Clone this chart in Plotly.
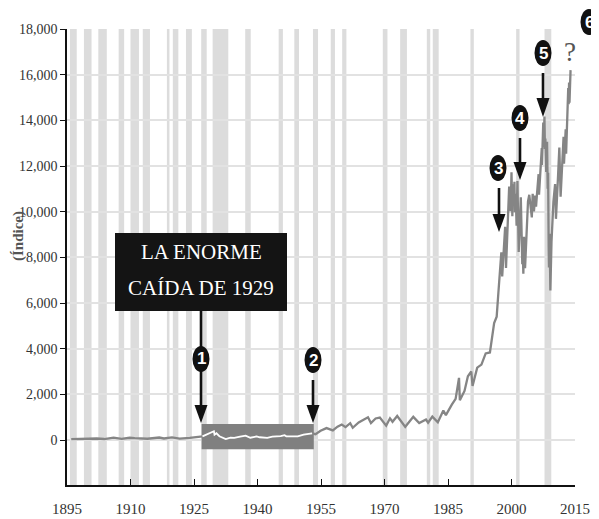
import numpy as np
import plotly.graph_objects as go

# ---------------- data ----------------
years = [1896.0, 1897.0, 1899.3, 1900.7, 1902.0, 1903.8, 1906.0, 1907.9, 1909.8, 1911.0,
         1914.0, 1916.8, 1917.9, 1919.8, 1921.6, 1924.0, 1926.0, 1927.0, 1928.0, 1929.7,
         1929.85, 1930.3, 1931.0, 1932.5, 1933.6, 1934.5, 1935.9, 1937.2, 1938.3, 1939.8,
         1940.5, 1942.3, 1943.5, 1945.5, 1946.4, 1946.8, 1949.5, 1950.9, 1952.9, 1953.7,
         1954.9, 1955.9, 1956.3, 1957.8, 1958.9, 1959.9, 1960.8, 1961.9, 1962.5, 1963.9,
         1964.9, 1966.1, 1966.8, 1967.9, 1968.9, 1970.4, 1971.3, 1971.9, 1973.0, 1974.9,
         1976.8, 1978.2, 1979.8, 1980.3, 1981.3, 1982.6, 1983.9, 1984.5, 1985.9, 1986.8,
         1987.6, 1987.8, 1988.9, 1989.7, 1990.5, 1990.8, 1991.9, 1992.9, 1993.9, 1994.9,
         1995.9, 1996.5, 1996.9, 1997.6, 1997.8, 1998.5, 1998.7, 1999.2, 1999.45, 1999.8,
         2000.0, 2000.2, 2000.3, 2000.45, 2000.7, 2000.8, 2001.0, 2001.2, 2001.4, 2001.7,
         2001.95, 2002.2, 2002.55, 2002.6, 2002.8, 2002.95, 2003.2, 2003.9, 2004.2, 2004.8,
         2005.0, 2005.3, 2005.6, 2005.8, 2006.0, 2006.4, 2006.5, 2006.9, 2007.15, 2007.2,
         2007.5, 2007.6, 2007.78, 2007.9, 2008.0, 2008.2, 2008.4, 2008.55, 2008.65, 2008.78,
         2008.85, 2009.0, 2009.18, 2009.45, 2009.9, 2010.3, 2010.5, 2011.0, 2011.3, 2011.6,
         2011.99, 2012.3, 2012.4, 2012.8, 2012.9, 2013.4, 2013.5, 2013.6, 2013.7, 2013.85,
         2013.95]
index_values = [40, 42, 76, 55, 66, 43, 100, 53, 99, 82,
                55, 108, 66, 118, 64, 95, 157, 160, 240, 381,
                230, 294, 165, 41, 105, 90, 145, 194, 99, 155,
                120, 93, 145, 165, 212, 163, 161, 235, 292, 255,
                404, 488, 521, 420, 583, 680, 566, 735, 535, 767,
                874, 995, 744, 943, 985, 631, 950, 798, 1051, 577,
                1014, 742, 897, 759, 1024, 777, 1287, 1087, 1546, 1800,
                2722, 1739, 2150, 2791, 2999, 2365, 3168, 3301, 3794, 3834,
                5117, 5400, 6448, 8222, 7161, 9337, 7539, 10000, 11100, 10020,
                11723, 9796, 11200, 10300, 11310, 9975, 10787, 9389, 11337, 8235,
                10100, 10635, 7702, 8700, 7286, 8900, 7524, 10453, 10737, 9749,
                10783, 10012, 10700, 10216, 10718, 11642, 10739, 12463, 12786, 12050,
                13900, 12845, 14164, 12743, 13200, 11740, 13058, 11000, 11700, 8451,
                7552, 9034, 6547, 8700, 10428, 11205, 9686, 11577, 12810, 10655,
                12217, 13279, 12101, 13610, 12542, 15409, 14700, 15658, 14776, 16000,
                16200]

# recessions (start, end)
rec_start = [1895.7, 1899.0, 1902.4, 1907.2, 1910.0, 1912.9, 1918.6, 1920.0, 1923.1, 1926.7,
             1929.4, 1937.1, 1945.0, 1948.7, 1953.1, 1957.3, 1960.0, 1969.6, 1973.7, 1980.0,
             1981.4, 1990.3, 2001.1, 2007.8]
rec_end = [1897.3, 1900.8, 1904.4, 1908.5, 1912.0, 1914.6, 1919.2, 1921.3, 1924.5, 1928.0,
           1933.1, 1938.4, 1946.0, 1949.8, 1954.3, 1958.3, 1961.0, 1970.7, 1975.3, 1980.8,
           1982.8, 1991.1, 2001.9, 2009.4]

x_ticks = [1895, 1910, 1925, 1940, 1955, 1970, 1985, 2000, 2015]
y_ticks = list(range(0, 18001, 2000))
y_tick_labels = [f"{v:,}" for v in y_ticks]

crash_period = (1926.8, 1953.3)
crash_band = (-400, 700)

# ---------------- layout geometry (window pixels) ----------------
WIN_W, WIN_H = 599, 519
OFF = 8  # default page body margin
W, H = WIN_W - OFF, WIN_H - OFF
L, R, T, B = 67, 575, 29, 485


def pp(x, y):
    return (x - L) / (R - L), (B - y) / (B - T)


yrs = np.array(years)
vals = np.array(index_values)

fig = go.Figure()
fig.add_trace(go.Scatter(x=yrs, y=vals, mode="lines",
                         line=dict(color="#858585", width=2.3), hoverinfo="skip"))
mask = (yrs >= 1926.9) & (yrs <= 1953.3)
fig.add_trace(go.Scatter(x=yrs[mask], y=vals[mask], mode="lines",
                         line=dict(color="white", width=1.8), hoverinfo="skip"))

shapes = []
for s, e in zip(rec_start, rec_end):
    shapes.append(dict(type="rect", xref="x", yref="paper", x0=s, x1=e, y0=0, y1=1,
                       fillcolor="#dcdcdc", line=dict(width=0), layer="below"))
shapes.append(dict(type="rect", xref="x", yref="y", x0=crash_period[0], x1=crash_period[1],
                   y0=crash_band[0], y1=crash_band[1], fillcolor="#808080",
                   line=dict(width=0), layer="between"))

# black box
bx0, by0 = pp(115, 311)
bx1, by1 = pp(287, 233)
shapes.append(dict(type="rect", xref="paper", yref="paper", x0=bx0, x1=bx1, y0=by0, y1=by1,
                   fillcolor="#141414", line=dict(width=0), layer="above"))

# arrows: x, line top, head top, tip
arrows = [(201, 311, 405, 423), (313, 380, 405, 423), (499, 188, 214, 232),
          (520, 138, 162, 180), (543, 73, 98, 117)]
for x, yt, yh, ytip in arrows:
    a0 = pp(x, yt)
    a1 = pp(x, yh + 2)
    shapes.append(dict(type="line", xref="paper", yref="paper", x0=a0[0], y0=a0[1],
                       x1=a1[0], y1=a1[1], line=dict(color="#111", width=2.6), layer="above"))
    p1 = pp(x - 6.5, yh)
    p2 = pp(x + 6.5, yh)
    p3 = pp(x, ytip)
    shapes.append(dict(type="path", xref="paper", yref="paper",
                       path=f"M {p1[0]},{p1[1]} L {p2[0]},{p2[1]} L {p3[0]},{p3[1]} Z",
                       fillcolor="#111", line=dict(width=0), layer="above"))

# numbered circles: center x, y, label
circles = [(201, 359, "1"), (313, 360, "2"), (498, 168, "3"), (520, 118, "4"),
           (543, 53, "5"), (589, 22, "6")]
annotations = []
for cx, cy, lab in circles:
    c0 = pp(cx - 8.5, cy + 13)
    c1 = pp(cx + 8.5, cy - 13)
    shapes.append(dict(type="circle", xref="paper", yref="paper", x0=c0[0], y0=c0[1],
                       x1=c1[0], y1=c1[1], fillcolor="#111", line=dict(width=0),
                       layer="above"))
    px, py = pp(cx, cy)
    annotations.append(dict(x=px, y=py, xref="paper", yref="paper", text=f"<b>{lab}</b>",
                            showarrow=False, xanchor="center", yanchor="middle",
                            font=dict(family="Liberation Sans", size=17, color="white")))

# box text
for ty, txt in [(252, "LA ENORME"), (288, "CAÍDA DE 1929")]:
    px, py = pp(201, ty)
    annotations.append(dict(x=px, y=py, xref="paper", yref="paper", text=txt,
                            showarrow=False, xanchor="center", yanchor="middle",
                            font=dict(family="Liberation Serif", size=21, color="white")))

# question mark
px, py = pp(570, 52)
annotations.append(dict(x=px, y=py, xref="paper", yref="paper", text="?",
                        showarrow=False, xanchor="center", yanchor="middle",
                        font=dict(family="Liberation Serif", size=27, color="#555")))

# y title
px, py = pp(18, 236)
annotations.append(dict(x=px, y=py, xref="paper", yref="paper", text="<b>(Índice)</b>",
                        showarrow=False, xanchor="center", yanchor="middle", textangle=-90,
                        font=dict(family="Liberation Serif", size=15, color="#555")))

y_min = -(B - 440) * 18000 / (440 - T)

fig.update_layout(
    width=W, height=H,
    margin=dict(l=L - OFF, r=WIN_W - R, t=T - OFF, b=WIN_H - B, autoexpand=False),
    plot_bgcolor="white", paper_bgcolor="white",
    showlegend=False,
    shapes=shapes, annotations=annotations,
    xaxis=dict(range=[1895, 2015], tickvals=x_ticks, ticktext=[str(v) for v in x_ticks],
               showgrid=False, zeroline=False, showline=True, linecolor="#111",
               linewidth=1.6, ticks="inside", ticklen=6, tickwidth=1.4, tickcolor="#111",
               ticklabelstandoff=9, automargin=False,
               tickfont=dict(family="Liberation Serif", size=15, color="#333")),
    yaxis=dict(range=[y_min, 18000], tickvals=y_ticks, ticktext=y_tick_labels,
               showgrid=True, gridcolor="#e2e2e2", gridwidth=1.5, zeroline=False,
               showline=True, linecolor="#111", linewidth=1.6, ticks="outside",
               ticklen=5, tickwidth=1.4, tickcolor="#111", automargin=False,
               tickfont=dict(family="Liberation Serif", size=14, color="#333")),
)

fig.write_html("out.html")
